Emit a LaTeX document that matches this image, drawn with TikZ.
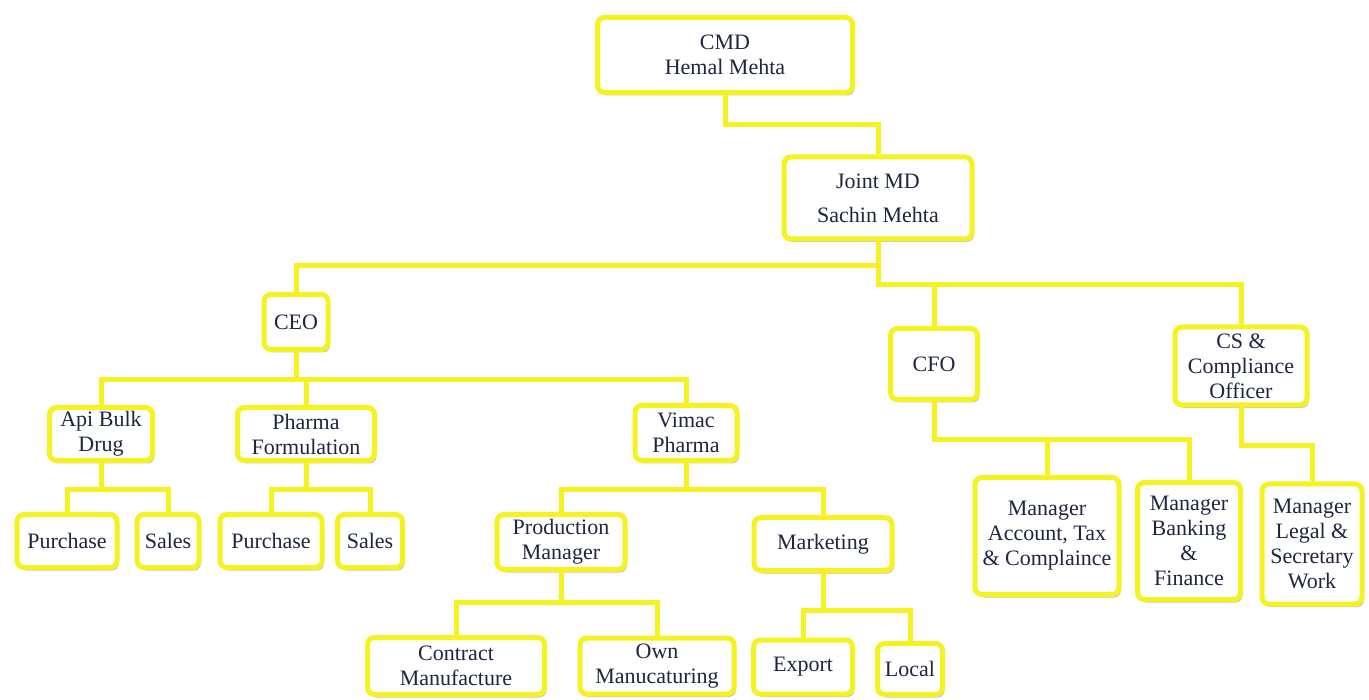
\documentclass[tikz,border=0pt]{standalone}
\usepackage{fontspec}
\setmainfont{Liberation Serif}
\usepackage{xcolor}
\usepackage{tikz}
\usetikzlibrary{shadows}

\definecolor{boxyellow}{RGB}{246,242,34}
\definecolor{boxtext}{RGB}{30,38,64}

\begin{document}
\begin{tikzpicture}[
	x=1pt, y=-1pt,
	every node/.style={font=\fontsize{22}{25}\selectfont, text=boxtext},
	unit/.style={shape=rectangle, draw=boxyellow, fill=white, line width=5pt, rounded corners=7pt,
		align=center, inner sep=0pt,
		drop shadow={shadow xshift=2pt, shadow yshift=-3pt, opacity=0.45, fill=gray}},
	link/.style={draw=boxyellow, line width=5pt},
]
\useasboundingbox (0,0) rectangle (1369,700);

% top levels
\node[unit, minimum width=255, minimum height=75] (cmd) at (725,55) {CMD\\Hemal Mehta};
\node[unit, minimum width=188, minimum height=82] (jmd) at (878,198) {Joint MD\\[9pt]Sachin Mehta};
\node[unit, minimum width=64, minimum height=55] (ceo) at (296,322) {CEO};
\node[unit, minimum width=87, minimum height=71] (cfo) at (934,364) {CFO};
\node[unit, minimum width=132, minimum height=78] (cs) at (1241,366) {CS \&\\Compliance\\Officer};

% under CEO
\node[unit, minimum width=103, minimum height=53] (api) at (101,434) {Api Bulk\\Drug};
\node[unit, minimum width=137, minimum height=53] (pharma) at (306,434) {Pharma\\Formulation};
\node[unit, minimum width=102, minimum height=55] (vimac) at (686,433) {Vimac\\Pharma};
\node[unit, minimum width=100, minimum height=53] (apipur) at (67,541) {Purchase};
\node[unit, minimum width=62, minimum height=53] (apisal) at (168,541) {Sales};
\node[unit, minimum width=102, minimum height=53] (phpur) at (271,541) {Purchase};
\node[unit, minimum width=65, minimum height=53] (phsal) at (370,541) {Sales};
\node[unit, minimum width=128, minimum height=55] (prod) at (561,542) {Production\\Manager};
\node[unit, minimum width=138, minimum height=53] (mkt) at (823,544) {Marketing};
\node[unit, minimum width=177, minimum height=57] (contract) at (456,666) {Contract\\Manufacture};
\node[unit, minimum width=154, minimum height=56] (own) at (657,666) {Own\\Manucaturing};
\node[unit, minimum width=99, minimum height=54] (export) at (803,667) {Export};
\node[unit, minimum width=65, minimum height=51] (local) at (910,669) {Local};

% under CFO and CS
\node[unit, minimum width=144, minimum height=117] (acct) at (1047,536) {Manager\\Account, Tax\\\& Complaince};
\node[unit, minimum width=103, minimum height=117] (bank) at (1189,541) {Manager\\Banking\\\&\\Finance};
\node[unit, minimum width=100, minimum height=120] (legal) at (1312,544) {Manager\\Legal \&\\Secretary\\Work};

% connectors
\draw[link] (cmd.south) -- ++(0,30) -| (jmd.north);
\draw[link] (jmd.south) -- ++(0,24) -| (ceo.north);
\draw[link] (jmd.south) -- ++(0,43) -| (cfo.north);
\draw[link] (jmd.south) -- ++(0,43) -| (cs.north);
\foreach \sub in {api,pharma,vimac}
	\draw[link] (ceo.south) -- ++(0,28) -| (\sub.north);
\foreach \sub in {apipur,apisal}
	\draw[link] (api.south) -- ++(0,27) -| (\sub.north);
\foreach \sub in {phpur,phsal}
	\draw[link] (pharma.south) -- ++(0,27) -| (\sub.north);
\foreach \sub in {prod,mkt}
	\draw[link] (vimac.south) -- ++(0,27) -| (\sub.north);
\foreach \sub in {contract,own}
	\draw[link] (prod.south) -- ++(0,30) -| (\sub.north);
\foreach \sub in {export,local}
	\draw[link] (mkt.south) -- ++(0,37) -| (\sub.north);
\foreach \sub in {acct,bank}
	\draw[link] (cfo.south) -- ++(0,38) -| (\sub.north);
\draw[link] (cs.south) -- ++(0,38) -| (legal.north);
\end{tikzpicture}
\end{document}
